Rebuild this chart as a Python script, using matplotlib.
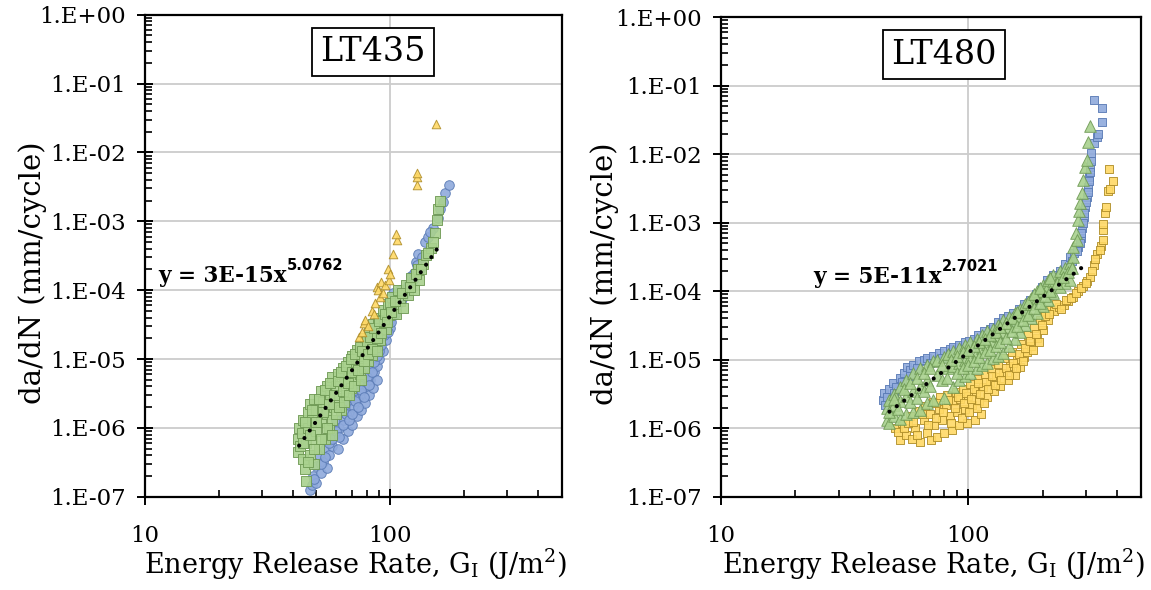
import matplotlib
matplotlib.use("Agg")
import matplotlib.pyplot as plt
import numpy as np
from matplotlib.ticker import LogLocator, FuncFormatter, NullFormatter

plt.rcParams['font.family'] = ['DejaVu Serif']

# LT435: (G, da/dN)
lt435_blue = [
    (47, 1.25e-7), (48, 1.5e-7), (48.5, 2e-7), (50, 1.6e-7), (50, 2.8e-7), (51, 4e-7),
    (52, 2.2e-7), (53, 3.2e-7), (54, 5e-7), (55, 2.6e-7), (55.5, 7e-7), (56, 4e-7),
    (57, 1e-6), (58, 5.5e-7), (59, 8e-7), (60, 1.3e-6), (61, 5e-7), (62, 1e-6),
    (63, 1.7e-6), (64, 7e-7), (65, 1.3e-6), (66, 2.2e-6), (67, 9e-7), (68, 1.6e-6),
    (69, 2.8e-6), (70, 1.1e-6), (71, 2e-6), (72, 3.5e-6), (73, 1.5e-6), (74, 2.6e-6),
    (75, 4.4e-6), (76, 1.8e-6), (77, 3.2e-6), (78, 5.5e-6), (79, 2.3e-6), (80, 4e-6),
    (81, 7e-6), (82, 3e-6), (83, 5e-6), (84, 8.5e-6), (85, 3.8e-6), (86, 6.5e-6),
    (87, 1.05e-5), (88, 5e-6), (88, 8e-6), (89, 1.3e-5), (90, 1e-5), (91, 1.6e-5),
    (92, 2e-5), (93, 1.3e-5), (95, 2.5e-5), (96, 1.9e-5), (97, 3e-5), (99, 3.5e-5),
    (100, 2.8e-5), (102, 4.2e-5), (103, 9e-5), (104, 5e-5), (107, 6e-5), (110, 1e-4),
    (111, 7e-5), (115, 9e-5), (118, 1.2e-4), (121, 1.6e-4), (124, 1.4e-4), (127, 2.6e-4),
    (130, 3.3e-4), (132, 2e-4), (135, 3e-4), (139, 5e-4), (150, 8e-4), (164, 1.9e-3),
    (167, 2.6e-3), (173, 3.4e-3),
    (49, 1.8e-7), (52, 3e-7), (54, 3.8e-7), (56, 6e-7), (58, 7e-7), (60, 9e-7),
    (62, 7.5e-7), (64, 1.1e-6), (66, 1.6e-6), (68, 1.3e-6), (70, 1.6e-6), (72, 2.5e-6),
    (74, 2e-6), (76, 3.6e-6), (78, 2.8e-6), (80, 5.5e-6), (82, 4.2e-6), (84, 6.5e-6),
    (86, 9e-6), (88, 1.1e-5), (90, 1.3e-5), (92, 1.6e-5), (94, 2.2e-5), (98, 2.5e-5),
    (101, 3.5e-5), (105, 4.5e-5), (108, 7.5e-5), (113, 8e-5), (116, 1.05e-4), (125, 1.8e-4),
    (129, 2.3e-4), (142, 6e-4), (145, 7e-4), (156, 1.1e-3), (160, 1.5e-3),
]
lt435_green = [
    (42, 4.5e-7), (42, 7e-7), (42.5, 1.0e-6), (43, 5.5e-7), (43.5, 8.5e-7), (44, 1.3e-6),
    (44, 3.5e-7), (45, 2.5e-7), (45.5, 1.7e-7), (45.5, 6e-7), (46, 1.0e-6), (46, 1.7e-6),
    (47, 2.2e-6), (47, 4e-7), (48, 7e-7), (48, 1.3e-6), (49, 2.6e-6), (49, 3e-7),
    (50, 1.8e-6), (50, 9e-7), (51, 5e-7), (52, 3.4e-6), (52, 1.2e-6), (53, 2.4e-6),
    (54, 7e-7), (55, 4e-6), (55, 1.6e-6), (56, 1e-6), (57, 3e-6), (58, 5.5e-6),
    (58, 1.3e-6), (59, 2e-6), (60, 4e-6), (61, 6e-6), (62, 2.7e-6), (63, 1.8e-6),
    (64, 7.5e-6), (65, 4.5e-6), (66, 3e-6), (67, 9e-6), (68, 6e-6), (69, 3.8e-6),
    (70, 1.1e-5), (71, 7.5e-6), (72, 5e-6), (73, 1.35e-5), (74, 9e-6), (75, 6e-6),
    (76, 1.6e-5), (77, 1.1e-5), (78, 7.5e-6), (79, 2e-5), (80, 1.4e-5), (81, 9.5e-6),
    (82, 2.4e-5), (83, 1.7e-5), (84, 1.15e-5), (85, 3.2e-5), (86, 2.2e-5), (87, 1.5e-5),
    (89, 4e-5), (90, 2.8e-5), (91, 1.9e-5), (93, 5.2e-5), (94, 3.5e-5), (96, 2.7e-5),
    (98, 6.2e-5), (99, 4.4e-5), (102, 8e-5), (103, 5.5e-5), (106, 4.5e-5), (108, 1e-4),
    (110, 7e-5), (113, 5.5e-5), (116, 1.2e-4), (118, 8.5e-5), (122, 1.5e-4), (125, 1e-4),
    (130, 2e-4), (131, 1.4e-4), (136, 2.4e-4), (140, 3.2e-4), (146, 4.1e-4), (152, 6.8e-4),
    (155, 1.05e-3), (157, 1.5e-3), (160, 2e-3),
    (44, 6e-7), (45, 1.2e-6), (46, 3.2e-7), (47, 8e-7), (48, 1.8e-6), (49, 5e-7),
    (50, 1.2e-6), (51, 2.6e-6), (52, 7e-7), (53, 1.7e-6), (54, 3.6e-6), (55, 1e-6),
    (56, 2.2e-6), (57, 4.5e-6), (58, 8e-7), (59, 3e-6), (60, 1.6e-6), (61, 4.8e-6),
    (62, 2e-6), (63, 6.5e-6), (64, 3.4e-6), (65, 2.4e-6), (66, 8e-6), (67, 4.5e-6),
    (68, 3e-6), (69, 1e-5), (70, 6.5e-6), (71, 4e-6), (72, 1.2e-5), (74, 7e-6),
    (75, 1.5e-5), (76, 5e-6), (77, 1.3e-5), (78, 9.5e-6), (80, 1.8e-5), (81, 1.2e-5),
    (83, 2.1e-5), (84, 1.4e-5), (86, 2.8e-5), (88, 2e-5), (88, 1.3e-5), (90, 3.6e-5),
    (92, 2.4e-5), (95, 4.5e-5), (97, 3.4e-5), (100, 6.5e-5), (101, 4.8e-5), (105, 7e-5),
    (112, 9e-5), (120, 1.1e-4), (127, 1.7e-4), (134, 2e-4), (143, 3.5e-4), (149, 5e-4),
]
lt435_yellow = [
    (74.5, 2.1e-5), (77, 2.5e-5), (78, 3.3e-5), (79, 3.7e-5), (81.5, 3e-5), (84, 5e-5),
    (86, 4.5e-5), (87, 6.6e-5), (88.5, 1.1e-4), (89.5, 1.0e-4), (91, 8e-5), (92, 1.3e-4),
    (93.5, 9e-5), (95, 1.2e-4), (98, 2e-4), (99, 1.4e-4), (100, 1.7e-4), (103, 3.4e-4),
    (107, 5.4e-4), (106, 6.5e-4), (128, 3.4e-3), (128, 4.4e-3), (129, 5e-3), (154, 2.6e-2),
]
lt435_fit = (3e-15, 5.0762, 42.5, 155)

# LT480
lt480_blue = [
    (45, 2.6e-6), (45.5, 3.3e-6), (47, 2.9e-6), (48, 3.8e-6), (49.5, 4.6e-6), (51, 4e-6),
    (53, 5.5e-6), (55, 6.5e-6), (56.5, 7.9e-6), (58, 7e-6), (60, 8.5e-6), (63, 9.5e-6),
    (66, 1e-5), (68, 1.05e-5), (72, 1.15e-5), (76, 1.25e-5), (80, 1.35e-5), (84, 1.45e-5),
    (87, 1.55e-5), (92, 1.65e-5), (97, 1.8e-5), (101, 1.9e-5), (105, 2.0e-5), (110, 2.3e-5),
    (116, 2.6e-5), (122, 2.8e-5), (126, 3e-5), (132, 3.5e-5), (138, 4e-5), (145, 4.4e-5),
    (152, 4.8e-5), (160, 5.5e-5), (168, 6.5e-5), (178, 7.4e-5), (188, 9e-5), (198, 1.15e-4),
    (208, 1.45e-4), (220, 1.7e-4), (235, 2e-4), (247, 2.5e-4), (258, 3.2e-4), (268, 3.6e-4),
    (279, 4.4e-4), (285, 6e-4), (289, 8.5e-4), (293, 1.2e-3), (297, 1.7e-3), (302, 2.4e-3),
    (306, 3.3e-3), (309, 4.6e-3), (312, 6.5e-3), (314, 8e-3), (315, 1.04e-2), (321, 1.45e-2),
    (333, 1.8e-2), (336, 2.0e-2), (349, 2.9e-2), (349, 4.7e-2), (321, 6.2e-2),
    (46, 2.2e-6), (50, 3.3e-6), (54, 4.8e-6), (58, 5.8e-6), (62, 7.5e-6), (70, 9e-6),
    (78, 1.05e-5), (86, 1.2e-5), (95, 1.45e-5), (104, 1.65e-5), (113, 1.9e-5), (124, 2.3e-5),
    (135, 2.9e-5), (148, 3.6e-5), (164, 5e-5), (183, 6.8e-5), (203, 1e-4), (228, 1.5e-4),
    (252, 2.2e-4), (263, 2.8e-4), (275, 3.8e-4), (282, 5e-4), (287, 7e-4), (291, 1e-3),
    (295, 1.4e-3), (300, 2e-3), (304, 2.8e-3), (308, 4e-3), (311, 5.5e-3),
]
lt480_green = [
    (47, 1.3e-6), (47, 2e-6), (48, 1.2e-6), (48, 2.6e-6), (50, 1.5e-6), (50, 2.2e-6),
    (50, 3.2e-6), (53, 1.35e-6), (53, 2.5e-6), (53, 4e-6), (56, 1.6e-6), (56, 3e-6),
    (56, 5e-6), (60, 1.7e-6), (60, 3.5e-6), (60, 6.5e-6), (64, 1.86e-6), (64, 4e-6),
    (64, 7.5e-6), (68, 2.3e-6), (68, 5e-6), (68, 8.5e-6), (72, 2.6e-6), (72, 9.5e-6),
    (75, 6e-6), (75, 1.0e-5), (80, 2.8e-6), (80, 1.1e-5), (83, 7.5e-6), (83, 1.2e-5),
    (87, 4e-6), (87, 8e-6), (87, 1.35e-5), (92, 5e-6), (92, 9e-6), (92, 1.5e-5),
    (97, 5.8e-6), (97, 1.0e-5), (97, 1.65e-5), (102, 6.4e-6), (102, 1.1e-5), (102, 1.8e-5),
    (108, 7.5e-6), (108, 1.3e-5), (108, 2e-5), (114, 8.5e-6), (114, 1.5e-5), (114, 2.3e-5),
    (119, 9e-6), (119, 1.7e-5), (119, 2.6e-5), (126, 1.05e-5), (126, 1.9e-5), (126, 2.8e-5),
    (132, 1.15e-5), (132, 2.2e-5), (132, 3.2e-5), (138, 1.26e-5), (138, 2.5e-5), (138, 3.8e-5),
    (146, 1.6e-5), (146, 3e-5), (146, 4.2e-5), (154, 2e-5), (154, 3.6e-5), (154, 4.8e-5),
    (162, 2.5e-5), (162, 4.3e-5), (162, 5.5e-5), (170, 3.2e-5), (170, 5e-5), (170, 6.5e-5),
    (180, 4e-5), (180, 6.5e-5), (180, 8e-5), (190, 4.8e-5), (190, 8e-5), (190, 1e-4),
    (200, 6e-5), (200, 1e-4), (200, 1.25e-4), (210, 7.5e-5), (210, 1.2e-4), (210, 1.45e-4),
    (221, 9.4e-5), (221, 1.4e-4), (221, 1.7e-4), (235, 1.15e-4), (235, 1.7e-4), (235, 2e-4),
    (247, 1.3e-4), (247, 2.2e-4), (258, 1.46e-4), (258, 2.6e-4), (266, 3.2e-4), (266, 4.4e-4),
    (272, 7e-4), (275, 5.5e-4), (277, 1.1e-3), (280, 1.5e-3), (283, 1.95e-3), (289, 2.7e-3),
    (292, 4.2e-3), (297, 6.5e-3), (303, 8.2e-3), (306, 1.5e-2), (312, 2.6e-2),
    (48, 1.7e-6), (50, 2.7e-6), (52, 1.9e-6), (55, 3.8e-6), (58, 2.4e-6), (58, 4.5e-6),
    (62, 2.8e-6), (62, 5.5e-6), (66, 3.5e-6), (66, 6.5e-6), (70, 4.2e-6), (70, 7.5e-6),
    (78, 5e-6), (78, 8.5e-6), (82, 5.5e-6), (85, 1.0e-5), (90, 6.5e-6), (90, 1.15e-5),
    (95, 7.5e-6), (95, 1.3e-5), (100, 8.5e-6), (100, 1.4e-5), (105, 9.5e-6), (105, 1.6e-5),
    (111, 1.1e-5), (111, 1.8e-5), (117, 1.3e-5), (117, 2.0e-5), (122, 1.4e-5), (122, 2.3e-5),
    (129, 1.6e-5), (129, 2.5e-5), (135, 1.8e-5), (135, 3e-5), (142, 2.1e-5), (142, 3.4e-5),
    (150, 2.6e-5), (150, 4e-5), (158, 3.1e-5), (158, 5e-5), (166, 3.8e-5), (175, 4.5e-5),
    (175, 7e-5), (185, 5.6e-5), (185, 9e-5), (195, 6.8e-5), (195, 1.1e-4), (205, 8.5e-5),
    (215, 1e-4), (215, 1.55e-4), (228, 1.3e-4), (241, 1.6e-4), (252, 1.9e-4), (262, 2.2e-4),
]
lt480_yellow = [
    (50.5, 1.0e-6), (52, 8.9e-7), (53, 6.8e-7), (54, 1.2e-6), (56, 8e-7), (58, 1.5e-6),
    (59, 7e-7), (61, 1.0e-6), (63, 1.8e-6), (64, 6.2e-7), (66, 1.3e-6), (67, 2.1e-6),
    (68, 8.5e-7), (70, 1.6e-6), (71, 6.8e-7), (72, 2.4e-6), (73, 1.1e-6), (75, 7.5e-7),
    (76, 1.9e-6), (77, 2.9e-6), (78, 1.3e-6), (80, 8.5e-7), (81, 2.2e-6), (82, 3.1e-6),
    (84, 1.5e-6), (86, 9.5e-7), (87, 2.5e-6), (89, 3.4e-6), (90, 1.7e-6), (92, 1.1e-6),
    (93, 2.7e-6), (95, 3.7e-6), (97, 1.9e-6), (99, 1.2e-6), (100, 3e-6), (102, 4.4e-6),
    (104, 2.2e-6), (106, 1.3e-6), (107, 3.4e-6), (109, 5.2e-6), (111, 2.5e-6), (113, 1.6e-6),
    (115, 4e-6), (117, 6.2e-6), (119, 2.9e-6), (122, 4.8e-6), (124, 7.4e-6), (127, 3.5e-6),
    (130, 5.6e-6), (132, 8.6e-6), (135, 4.2e-6), (138, 6.5e-6), (140, 1.05e-5), (145, 5e-6),
    (148, 8e-6), (150, 1.3e-5), (155, 6e-6), (158, 1e-5), (162, 7.9e-6), (164, 1.7e-5),
    (168, 1.1e-5), (173, 1.3e-5), (175, 2.3e-5), (180, 1.6e-5), (185, 2.9e-5), (190, 2.1e-5),
    (195, 3.8e-5), (200, 2.7e-5), (203, 5.2e-5), (210, 3.8e-5), (215, 5.4e-5), (222, 5.2e-5),
    (232, 5.8e-5), (243, 6.3e-5), (254, 7.2e-5), (266, 8.3e-5), (279, 1e-4), (292, 1.2e-4),
    (303, 1.4e-4), (312, 1.6e-4), (321, 2.4e-4), (333, 3.5e-4), (345, 4.6e-4), (350, 5.6e-4),
    (352, 7.9e-4), (350, 9.5e-4), (358, 1.4e-3), (359, 1.7e-3), (369, 2.9e-3), (375, 3.1e-3),
    (386, 4e-3), (372, 6.1e-3),
    (55, 1.0e-6), (57, 1.2e-6), (60, 1.25e-6), (62, 8e-7), (65, 1.6e-6), (69, 1.1e-6),
    (74, 1.4e-6), (74, 2.3e-6), (79, 1.7e-6), (83, 2.6e-6), (85, 1.2e-6), (88, 2e-6),
    (91, 2.9e-6), (94, 1.4e-6), (96, 2.3e-6), (98, 3.3e-6), (101, 1.7e-6), (103, 2.7e-6),
    (105, 3.8e-6), (108, 2e-6), (110, 4.5e-6), (112, 3.2e-6), (116, 2.3e-6), (118, 4.8e-6),
    (120, 3.7e-6), (125, 5.8e-6), (128, 4.3e-6), (133, 6.5e-6), (136, 5e-6), (142, 7.5e-6),
    (146, 6e-6), (152, 9e-6), (156, 7.5e-6), (160, 1.2e-5), (166, 9.5e-6), (170, 1.5e-5),
    (178, 1.9e-5), (183, 1.4e-5), (188, 2.4e-5), (193, 1.8e-5), (198, 3.2e-5), (205, 4.4e-5),
    (212, 4.6e-5), (226, 6.5e-5), (237, 5.5e-5), (248, 7.5e-5), (260, 8e-5), (272, 9.5e-5),
    (285, 1.1e-4), (298, 1.3e-4), (317, 2e-4), (327, 3e-4), (340, 4e-4),
]
lt480_fit = (5e-11, 2.7021, 48, 303)

blue_fc, blue_ec = '#8FAADC', '#5A7BB5'
green_fc, green_ec = '#A9D18E', '#6F9A55'
yellow_fc, yellow_ec = '#FFD966', '#B08F2A'

fig = plt.figure(figsize=(11.51, 5.90), dpi=100)
ax1 = fig.add_axes([0.126, 0.158, 0.362, 0.817])
ax2 = fig.add_axes([0.6264, 0.158, 0.365, 0.813])


def pts(data):
    a = np.array(data)
    return a[:, 0], a[:, 1]


def scat(ax, data, marker, size, fc, ec):
    x, y = pts(data)
    ax.scatter(x, y, s=size, marker=marker, facecolor=fc, edgecolor=ec,
               linewidth=0.7, alpha=0.9, zorder=3)


def trend(ax, fit):
    a, b, x0, x1 = fit
    x = np.geomspace(x0, x1, 200)
    ax.plot(x, a * x**b, color='black', lw=3.0, linestyle=(0, (0.01, 2.2)),
            dash_capstyle='round', zorder=5)


scat(ax1, lt435_blue, 'o', 48, blue_fc, blue_ec)
scat(ax1, lt435_green, 's', 52, green_fc, green_ec)
scat(ax1, lt435_yellow, '^', 38, yellow_fc, yellow_ec)
trend(ax1, lt435_fit)

scat(ax2, lt480_yellow, 's', 40, yellow_fc, yellow_ec)
scat(ax2, lt480_blue, 's', 40, blue_fc, blue_ec)
scat(ax2, lt480_green, '^', 70, green_fc, green_ec)
trend(ax2, lt480_fit)


def yfmt(v, pos):
    return "1.E%+03d" % int(round(np.log10(v)))


for ax in (ax1, ax2):
    ax.set_xscale('log')
    ax.set_yscale('log')
    ax.set_xlim(10, 500)
    ax.set_ylim(1e-7, 1)
    ax.set_axisbelow(True)
    ax.grid(True, which='major', color='#CCCCCC', lw=1.3)
    ax.yaxis.set_major_locator(LogLocator(base=10, numticks=20))
    ax.yaxis.set_minor_locator(LogLocator(base=10, subs=np.arange(2, 10), numticks=20))
    ax.yaxis.set_major_formatter(FuncFormatter(yfmt))
    ax.yaxis.set_minor_formatter(NullFormatter())
    ax.xaxis.set_major_formatter(FuncFormatter(lambda v, p: "%d" % v))
    ax.xaxis.set_minor_formatter(NullFormatter())
    ax.tick_params(which='major', direction='inout', length=12, width=1.4,
                   labelsize=16.5, pad=8)
    ax.tick_params(axis='x', which='major', pad=14)
    ax.tick_params(which='minor', direction='in', length=5, width=1.2)
    for s in ax.spines.values():
        s.set_linewidth(1.6)
    ax.set_xlabel("Energy Release Rate, G$_\\mathregular{I}$ (J/m$^\\mathregular{2}$)",
                  fontsize=19.5, va='center')
    ax.set_ylabel("da/dN (mm/cycle)", fontsize=21, va='center')

ax1.xaxis.set_label_coords(0.506, -0.141)
ax2.xaxis.set_label_coords(0.507, -0.141)
ax1.yaxis.set_label_coords(-0.271, 0.465)
ax2.yaxis.set_label_coords(-0.276, 0.465)

box = dict(boxstyle='square,pad=0.25', fc='white', ec='black', lw=1.3)
ax1.text(0.547, 0.923, "LT435", transform=ax1.transAxes, ha='center', va='center',
         fontsize=24, bbox=box, zorder=6)
ax2.text(0.531, 0.922, "LT480", transform=ax2.transAxes, ha='center', va='center',
         fontsize=24, bbox=box, zorder=6)

for ax, x0, main, sup in ((ax1, 0.031, "y = 3E-15x", "5.0762"),
                          (ax2, 0.219, "y = 5E-11x", "2.7021")):
    t = ax.text(x0, 0.446, main, transform=ax.transAxes, fontsize=15.5,
                fontweight='bold', va='baseline', zorder=6)
    ax.annotate(sup, xy=(1, 0.5), xycoords=t, xytext=(0.5, 2), textcoords='offset points',
                fontsize=10.5, fontweight='bold', family='DejaVu Sans', va='bottom',
                zorder=6)

fig.savefig("out.png", dpi=100)
